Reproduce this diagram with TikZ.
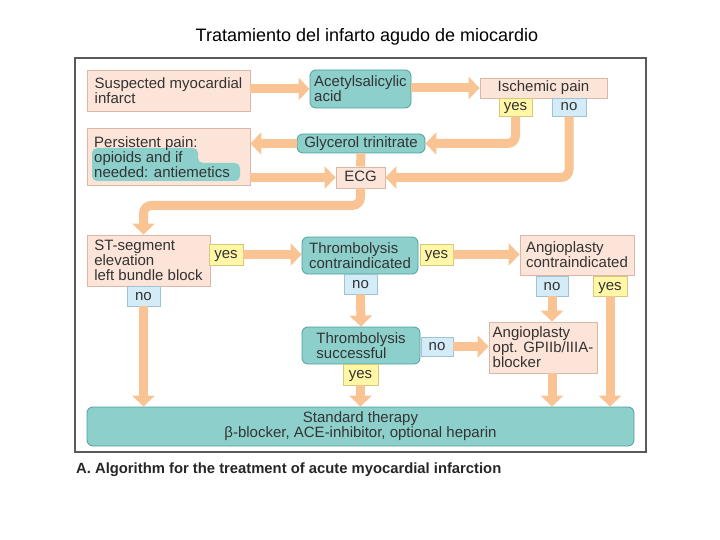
\documentclass[tikz,border=0pt]{standalone}
\usepackage{fontspec}
\setmainfont{Liberation Sans}
\usetikzlibrary{arrows.meta}

\definecolor{pinkfill}{HTML}{FCE4D8}
\definecolor{pinkline}{HTML}{DDB6A6}
\definecolor{tealfill}{HTML}{8DD0CB}
\definecolor{tealline}{HTML}{4E9E9A}
\definecolor{yesfill}{HTML}{FFF6A6}
\definecolor{yesline}{HTML}{D6C87A}
\definecolor{nofill}{HTML}{D4EBF8}
\definecolor{noline}{HTML}{9DC3D6}
\definecolor{flowc}{HTML}{F9C394}
\definecolor{framec}{HTML}{5A5A5A}
\definecolor{txtc}{HTML}{333333}

\begin{document}
\begin{tikzpicture}[x=1pt,y=-1pt,
  every node/.style={font=\fontsize{15}{15}\selectfont,text=txtc,inner sep=0pt},
  sz/.style 2 args={minimum width=#1pt,minimum height=#2pt},
  oneline/.style={text height=11pt,text depth=3pt},
  pinkbox/.style={draw=pinkline,fill=pinkfill,line width=0.8pt,align=left},
  tealbox/.style={draw=tealline,fill=tealfill,line width=0.8pt,rounded corners=6pt,align=left},
  yesbox/.style={draw=yesline,fill=yesfill,line width=0.8pt,oneline},
  nobox/.style={draw=noline,fill=nofill,line width=0.8pt,oneline},
  flow/.style={draw=flowc,line width=9pt,rounded corners=8pt,-{Triangle[width=22pt,length=11pt]}},
  bar/.style={draw=flowc,line width=9pt}]

\useasboundingbox (0,0) rectangle (720,540);

\node (title) at (367,37) {\fontsize{18}{18}\selectfont\color{black}Tratamiento del infarto agudo de miocardio};
\draw [framec,line width=1.2pt] (75,58) rectangle (646,452);
\node [anchor=base west] (caption) at (76,473) {\fontsize{14.8}{15}\selectfont\bfseries\color{black!85}A. Algorithm for the treatment of acute myocardial infarction};

% first row
\node [pinkbox,sz={163}{41}] (susp) at (168.5,90.5) {Suspected myocardial\\infarct};
\node [tealbox,sz={101}{38}] (asa) at (360.5,89) {Acetylsalicylic\\acid};
\node [pinkbox,oneline,sz={127}{20}] (isch) at (543.5,88) {Ischemic pain};
\node [yesbox,sz={33}{18}] (ipyes) at (515.5,107) {yes};
\node [nobox,sz={34}{18}] (ipno) at (569,107) {no};

% pain treatment
\node [pinkbox,sz={163}{57}] (pers) at (168.5,156.5) {};
\fill [tealfill,rounded corners=5pt] (92,148) -- (198,148) -- (198,163) -- (240,163) -- (240,181) -- (92,181) -- cycle;
\node [anchor=north west,align=left] (perstxt) at (94,136) {Persistent pain:\\opioids and if\\needed: antiemetics};
\node [tealbox,oneline,sz={128}{19}] (gly) at (361,143.5) {Glycerol trinitrate};
\node [pinkbox,oneline,sz={49}{21}] (ecg) at (360.5,177.5) {ECG};

% diagnosis and thrombolysis
\node [pinkbox,sz={123}{51}] (st) at (148.5,260.5) {ST-segment\\elevation\\left bundle block};
\node [yesbox,sz={34}{21}] (styes) at (226,254.5) {yes};
\node [nobox,sz={33}{20}] (stno) at (143.5,296) {no};

\node [tealbox,sz={116}{37}] (tc) at (360,255.5) {Thrombolysis\\contraindicated};
\node [yesbox,sz={33}{21}] (tcyes) at (436.5,254.5) {yes};
\node [nobox,sz={33}{20}] (tcno) at (360.5,284) {no};

\node [pinkbox,sz={114}{40}] (ac) at (577,255) {Angioplasty\\contraindicated};
\node [nobox,sz={32}{20}] (acno) at (552,286) {no};
\node [yesbox,sz={34}{20}] (acyes) at (610,286) {yes};

\node [tealbox,sz={118}{37}] (ts) at (361,345.5) {Thrombolysis\\successful};
\node [nobox,sz={32}{19}] (tsno) at (437,346.5) {no};
\node [yesbox,sz={35}{21}] (tsyes) at (360.5,374.5) {yes};

\node [pinkbox,sz={108}{51}] (ao) at (543,347.5) {Angioplasty\\opt. GPIIb/IIIA-\\blocker};

\node [tealbox,sz={547}{39},align=center] (std) at (360.5,426.5) {Standard therapy\\β-blocker, ACE-inhibitor, optional heparin};

% connectors
\draw [flow] (susp.east |- asa) -- (asa.west);
\draw [flow] (asa.east |- isch) -- (isch.west);
\draw [flow] (ipyes.south) |- (gly.east);
\draw [flow] (ipno.south) |- (ecg.east);
\draw [flow] (gly.west) -- (gly.west -| pers.east);
\draw [bar] (gly.south) -- (ecg.north);
\draw [flow] (ecg.west -| pers.east) -- (ecg.west);
\draw [flow] (ecg.south) -- ++(0,17) -| (stno |- st.north);

\draw [flow] (styes.east) -- (styes.east -| tc.west);
\draw [flow] (stno.south) -- (stno.south |- std.north);
\draw [flow] (tcyes.east) -- (tcyes.east -| ac.west);
\draw [flow] (tcno.south) -- (ts.north);
\draw [flow] (tsno.east) -- (tsno.east -| ao.west);
\draw [flow] (tsyes.south) -- (tsyes.south |- std.north);
\draw [flow] (acno.south) -- (acno.south |- ao.north);
\draw [flow] (acyes.south) -- (acyes.south |- std.north);
\draw [flow] (acno |- ao.south) -- (acno |- std.north);

\end{tikzpicture}
\end{document}
